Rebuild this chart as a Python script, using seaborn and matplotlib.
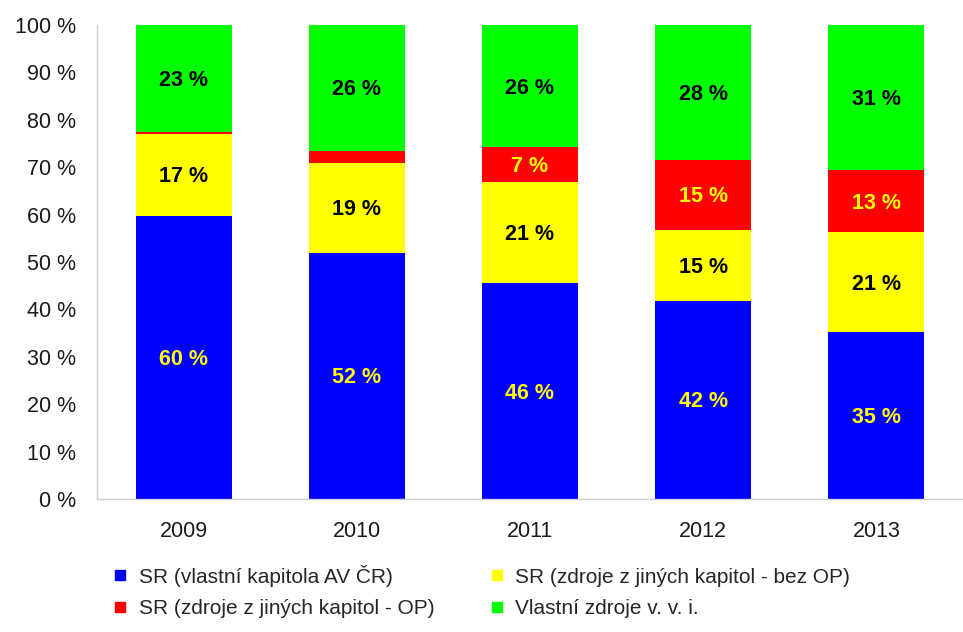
import matplotlib
matplotlib.use("Agg")
import matplotlib.pyplot as plt
from matplotlib import font_manager
from matplotlib.lines import Line2D
import seaborn as sns
import pandas as pd
import numpy as np

years = ["2009", "2010", "2011", "2012", "2013"]
series_names = [
    "SR (vlastní kapitola AV ČR)",
    "SR (zdroje z jiných kapitol - bez OP)",
    "SR (zdroje z jiných kapitol - OP)",
    "Vlastní zdroje v. v. i.",
]
blue_vals = [59.8, 51.9, 45.5, 41.8, 35.2]
yellow_vals = [17.2, 19.0, 21.4, 15.0, 21.1]
red_vals = [0.4, 2.5, 7.3, 14.7, 13.1]
green_vals = [22.6, 26.6, 25.8, 28.5, 30.6]
label_texts = [
    ["60 %", "52 %", "46 %", "42 %", "35 %"],
    ["17 %", "19 %", "21 %", "15 %", "21 %"],
    ["", "", "7 %", "15 %", "13 %"],
    ["23 %", "26 %", "26 %", "28 %", "31 %"],
]
yticks = [0, 10, 20, 30, 40, 50, 60, 70, 80, 90, 100]

colors = ["#0000FF", "#FFFF00", "#FF0000", "#00FF00"]
label_colors = ["#FFFF00", "#000000", "#FFFF00", "#000000"]

sns.set_theme(style="white")
avail = {f.name for f in font_manager.fontManager.ttflist}
fam = "Liberation Sans Narrow" if "Liberation Sans Narrow" in avail else "Liberation Sans"
plt.rcParams["font.family"] = [fam, "DejaVu Sans"]

vals = [blue_vals, yellow_vals, red_vals, green_vals]
cum = np.cumsum(np.array(vals), axis=0)

fig = plt.figure(figsize=(9.63, 6.32), dpi=100)
ax = fig.add_axes([0.1007, 0.2104, 0.8993, 0.75])

for i in range(3, -1, -1):
    df = pd.DataFrame({"year": years, "value": cum[i]})
    sns.barplot(data=df, x="year", y="value", color=colors[i], saturation=1,
                width=0.555, ax=ax, linewidth=0, edgecolor="none")

for i in range(4):
    for j in range(5):
        if label_texts[i][j]:
            mid = cum[i][j] - vals[i][j] / 2
            ax.text(j, mid - 0.4, label_texts[i][j], ha="center", va="center",
                    fontsize=15.5, fontweight="bold", color=label_colors[i])

ax.set_ylim(0, 100)
ax.set_xlim(-0.5, 4.5)
ax.set_yticks(yticks)
ax.set_yticklabels([f"{v} %" for v in yticks], fontsize=15.5, color="#1a1a1a")
ax.set_xticks(range(5))
ax.set_xticklabels(years, fontsize=15.5, color="#1a1a1a")
ax.set_xlabel("")
ax.set_ylabel("")
ax.set_xticks(np.arange(-0.5, 5, 1), minor=True)
ax.tick_params(axis="x", which="major", length=0, pad=16)
ax.tick_params(axis="x", which="minor", length=6, color="#cccccc", width=1, direction="out")
ax.tick_params(axis="y", which="major", length=5, color="#cccccc", width=1, direction="out", pad=10)
for s in ["top", "right"]:
    ax.spines[s].set_visible(False)
for s in ["left", "bottom"]:
    ax.spines[s].set_color("#d0d0d0")
    ax.spines[s].set_linewidth(1)
ax.grid(False)

handles = [Line2D([0], [0], marker="s", linestyle="none", markersize=7,
                  markerfacecolor=c, markeredgecolor=c) for c in colors]
order = [0, 2, 1, 3]
fig.legend([handles[k] for k in order], [series_names[k] for k in order],
           ncol=2, loc="upper left", bbox_to_anchor=(0.105, 0.123), frameon=False,
           fontsize=15, handletextpad=0.5, columnspacing=2.6, labelspacing=0.6,
           handlelength=0.8, borderpad=0)

fig.savefig("out.png", dpi=100)
